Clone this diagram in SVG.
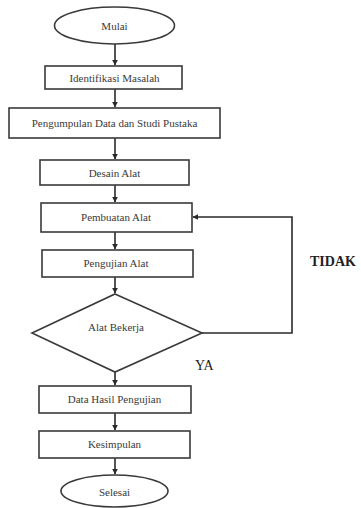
<svg xmlns="http://www.w3.org/2000/svg" width="361" height="508" viewBox="0 0 361 508">
<defs>
<marker id="ah" viewBox="0 0 10 10" refX="9" refY="5" markerWidth="6" markerHeight="6" markerUnits="userSpaceOnUse" orient="auto">
<path d="M0,0 L10,5 L0,10 Z" fill="#2a2a2a"/>
</marker>
</defs>
<style>
.s{fill:#fff;stroke:#3a3a3a;stroke-width:1.6}
.t{font-family:'Liberation Serif','Times New Roman','DejaVu Serif',Times,serif;font-size:11px;fill:#3a3a3a;text-anchor:middle;dominant-baseline:central}
.c{fill:none;stroke:#2a2a2a;stroke-width:1.6;marker-end:url(#ah)}
.l{font-family:'Liberation Serif','Times New Roman','DejaVu Serif',Times,serif;font-size:14px;fill:#222}
</style>
<rect width="361" height="508" fill="#fff"/>
<g id="connectors">
<line class="c" x1="115" y1="44" x2="115" y2="65"/>
<line class="c" x1="115" y1="89" x2="115" y2="107"/>
<line class="c" x1="115" y1="138" x2="115" y2="159"/>
<line class="c" x1="115" y1="185" x2="115" y2="202"/>
<line class="c" x1="115" y1="232" x2="115" y2="249"/>
<line class="c" x1="115" y1="277" x2="115" y2="293"/>
<line class="c" x1="115" y1="372" x2="115" y2="385"/>
<line class="c" x1="115" y1="413" x2="115" y2="430"/>
<line class="c" x1="115" y1="458" x2="115" y2="474"/>
<polyline class="c" points="202,333 292,333 292,217 193,217"/>
</g>
<g id="mulai"><ellipse class="s" cx="114.5" cy="25.5" rx="60" ry="18.5"/><text class="t" x="114.5" y="26">Mulai</text></g>
<g id="identifikasi"><rect class="s" x="45" y="66" width="137" height="23"/><text class="t" x="114.5" y="78">Identifikasi Masalah</text></g>
<g id="pengumpulan"><rect class="s" x="9" y="108" width="211" height="30"/><text class="t" x="114.5" y="123">Pengumpulan Data dan Studi Pustaka</text></g>
<g id="desain"><rect class="s" x="40" y="160" width="149" height="25"/><text class="t" x="114.5" y="173">Desain Alat</text></g>
<g id="pembuatan"><rect class="s" x="41" y="203" width="151" height="29"/><text class="t" x="116" y="217">Pembuatan Alat</text></g>
<g id="pengujian"><rect class="s" x="42" y="250" width="151" height="27"/><text class="t" x="116" y="263">Pengujian Alat</text></g>
<g id="alat-bekerja"><polygon class="s" points="115,294 202,333 115,372 32,333"/><text class="t" x="116" y="327">Alat Bekerja</text></g>
<g id="data-hasil"><rect class="s" x="39" y="386" width="152" height="27"/><text class="t" x="114.5" y="399">Data Hasil Pengujian</text></g>
<g id="kesimpulan"><rect class="s" x="39" y="431" width="151" height="27"/><text class="t" x="114.5" y="444">Kesimpulan</text></g>
<g id="selesai"><ellipse class="s" cx="114.5" cy="491" rx="53.5" ry="16"/><text class="t" x="114.5" y="492">Selesai</text></g>
<text class="l" x="310" y="266" font-weight="bold">TIDAK</text>
<text class="l" x="195" y="370">YA</text>
</svg>
